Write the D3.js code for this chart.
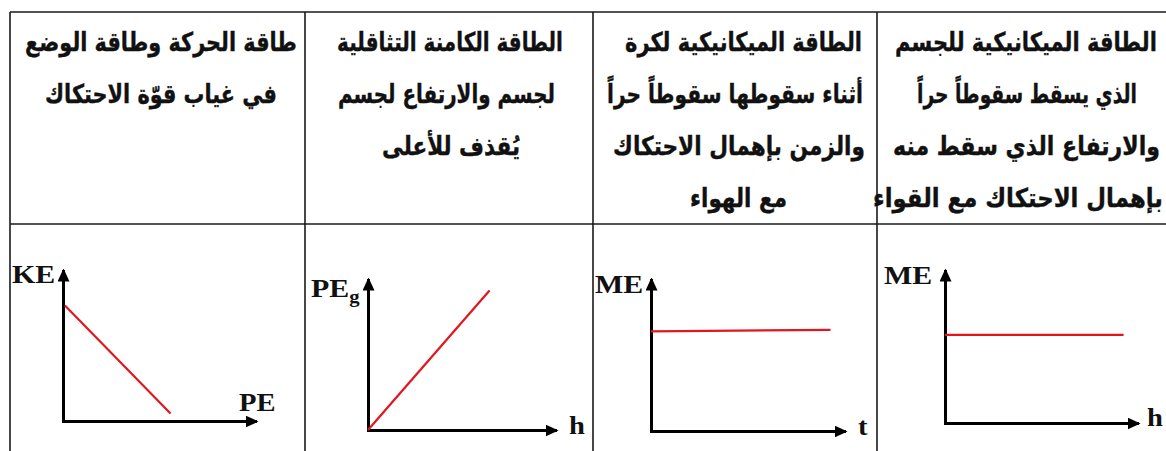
<!DOCTYPE html>
<html lang="ar">
<head>
  <meta charset="UTF-8">
  <title>energy graphs</title>
  <script src="https://cdn.jsdelivr.net/npm/d3@7"></script>
  <style>
    html, body { margin: 0; padding: 0; background: #fff; }
    svg { display: block; }
    .head { font-family: "DejaVu Sans", sans-serif; font-weight: bold; font-size: 26px; fill: #111; stroke: #111; stroke-width: 0.4px; }
    .lbl { font-family: "Liberation Serif", "Times New Roman", serif; font-weight: bold; font-size: 26px; fill: #111; }
  </style>
</head>
<body>
<script>
// header text, columns from left to right
const titles = [
  ["طاقة الحركة وطاقة الوضع", "في غياب قوّة الاحتكاك"],
  ["الطاقة الكامنة التثاقلية", "لجسم والارتفاع لجسم", "يُقذف للأعلى"],
  ["الطاقة الميكانيكية لكرة", "أثناء سقوطها سقوطاً حراً", "والزمن بإهمال الاحتكاك", "مع الهواء"],
  ["الطاقة الميكانيكية للجسم", "الذي يسقط سقوطاً حراً", "والارتفاع الذي سقط منه", "بإهمال الاحتكاك مع القواء"]
];

// axis names
const yNames = ["KE", "PE", "ME", "ME"];
const ySubs = ["", "g", "", ""];
const xNames = ["PE", "h", "t", "h"];

// red line end points, as a fraction of each axis
const lineX = [[0.01, 0.56], [0, 0.65], [0, 0.93], [0, 0.93]];
const lineY = [[0.77, 0.05], [0, 0.93], [0.66, 0.67], [0.58, 0.58]];

// layout
const W = 1166, H = 451;
const colEdges = [10, 305, 593, 877, 1173];
const topY = 12, midY = 224;
const baselines = [51, 103, 155, 207];
const lineExtents = [
  [[25, 297], [45, 277]],
  [[337, 563], [338, 555], [382, 520]],
  [[625, 862], [607, 863], [613, 865], [690, 787]],
  [[895, 1157], [917, 1137], [893, 1160], [873, 1163]]
];
const frames = [
  {ox: 63, oy: 421, tx: 258, ty: 268, yl: [12, 283], xl: [239, 411]},
  {ox: 368, oy: 430, tx: 558, ty: 277, yl: [311, 297], xl: [569, 434]},
  {ox: 651, oy: 431, tx: 847, ty: 277, yl: [595, 293], xl: [858, 435]},
  {ox: 945, oy: 423, tx: 1140, ty: 268, yl: [884, 284], xl: [1147, 426]}
];

const svg = d3.select("body").append("svg")
  .attr("width", W)
  .attr("height", H);

svg.append("defs").append("marker")
  .attr("id", "arrow")
  .attr("viewBox", "0 -6 13 12")
  .attr("refX", 10)
  .attr("refY", 0)
  .attr("markerUnits", "userSpaceOnUse")
  .attr("markerWidth", 13)
  .attr("markerHeight", 12)
  .attr("orient", "auto")
  .append("path")
  .attr("d", "M0,-6L13,0L0,6Z")
  .attr("fill", "#000");

// table grid
const grid = svg.append("g").attr("stroke", "#1a1a1a").attr("stroke-width", 1.6);
[topY, midY].forEach(y => {
  grid.append("line").attr("x1", colEdges[0]).attr("x2", W).attr("y1", y).attr("y2", y);
});
colEdges.slice(0, 4).forEach(x => {
  grid.append("line").attr("x1", x).attr("x2", x).attr("y1", topY).attr("y2", H);
});

// header text, squeezed to the widths seen in the picture
titles.forEach((lines, c) => {
  lines.forEach((t, i) => {
    const ext = lineExtents[c][i];
    const cx = (ext[0] + ext[1]) / 2;
    const txt = svg.append("text")
      .attr("class", "head")
      .attr("direction", "rtl")
      .attr("text-anchor", "middle")
      .text(t);
    const w = txt.node().getComputedTextLength();
    const s = (ext[1] - ext[0]) / w;
    txt.attr("transform", `translate(${cx},${baselines[i]}) scale(${s},1)`);
  });
});

// the four graphs
frames.forEach((f, i) => {
  const x = d3.scaleLinear().domain([0, 1]).range([f.ox, f.tx - 3]);
  const y = d3.scaleLinear().domain([0, 1]).range([f.oy, f.ty + 3]);
  const g = svg.append("g");

  const xAxis = g.append("g")
    .attr("transform", `translate(0,${f.oy})`)
    .call(d3.axisBottom(x).ticks(0).tickSizeOuter(0));
  const yAxis = g.append("g")
    .attr("transform", `translate(${f.ox},0)`)
    .call(d3.axisLeft(y).ticks(0).tickSizeOuter(0));
  [xAxis, yAxis].forEach(a => {
    a.select(".domain")
      .attr("stroke", "#000")
      .attr("stroke-width", 3)
      .attr("stroke-linecap", "square")
      .attr("marker-end", "url(#arrow)");
  });

  const pts = lineX[i].map((v, k) => [v, lineY[i][k]]);
  g.append("path")
    .datum(pts)
    .attr("fill", "none")
    .attr("stroke", "#e3151d")
    .attr("stroke-width", 2.2)
    .attr("d", d3.line().x(d => x(d[0])).y(d => y(d[1])));

  const yl = g.append("text")
    .attr("class", "lbl")
    .attr("transform", `translate(${f.yl[0]},${f.yl[1]}) scale(1.15,1)`)
    .text(yNames[i]);
  if (ySubs[i]) {
    yl.append("tspan")
      .attr("font-size", "18px")
      .attr("dy", 6)
      .text(ySubs[i]);
  }
  g.append("text")
    .attr("class", "lbl")
    .attr("transform", `translate(${f.xl[0]},${f.xl[1]}) scale(1.1,1)`)
    .text(xNames[i]);
});
</script>
</body>
</html>
